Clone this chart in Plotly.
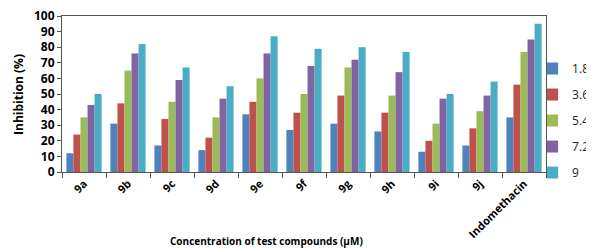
import plotly.graph_objects as go

categories = ["9a", "9b", "9c", "9d", "9e", "9f", "9g", "9h", "9i", "9j", "Indomethacin"]
series_names = ["1.8", "3.6", "5.4", "7.2", "9"]
v_1_8 = [12, 31, 17, 14, 37, 27, 31, 26, 13, 17, 35]
v_3_6 = [24, 44, 34, 22, 45, 38, 49, 38, 20, 28, 56]
v_5_4 = [35, 65, 45, 35, 60, 50, 67, 49, 31, 39, 77]
v_7_2 = [43, 76, 59, 47, 76, 68, 72, 64, 47, 49, 85]
v_9 = [50, 82, 67, 55, 87, 79, 80, 77, 50, 58, 95]
colors = ["#4F81BD", "#C0504D", "#9BBB59", "#8064A2", "#4BACC6"]

fig = go.Figure()
for i, (name, vals) in enumerate(zip(series_names, [v_1_8, v_3_6, v_5_4, v_7_2, v_9])):
    fig.add_trace(go.Bar(x=categories, y=vals, name=name, legendgroup=name,
                         marker=dict(color=colors[i], line=dict(width=0))))

font_family = "Open Sans, Liberation Sans, Arial, sans-serif"
# page body has an 8px default margin, so the figure is 8px smaller each way
fig.update_layout(
    width=586, height=240,
    margin=dict(l=54, r=48, t=8, b=76),
    paper_bgcolor="white", plot_bgcolor="white",
    barmode="group", bargap=0.2, bargroupgap=0,
    font=dict(family=font_family, color="#000000", size=11),
    showlegend=True,
    legend=dict(xref="container", yref="paper",
                x=0.92, xanchor="left", y=0.33, yanchor="middle",
                indentation=-15,
                font=dict(size=12, color="#222"), tracegroupgap=7,
                itemwidth=30, bgcolor="rgba(0,0,0,0)"),
    xaxis=dict(
        automargin=False,
        showline=True, linecolor="#555", linewidth=1, mirror=True,
        ticks="outside", tickson="boundaries", ticklen=5, tickcolor="#555",
        tickangle=-45, tickfont=dict(size=11, family=font_family, weight="bold"),
    ),
    yaxis=dict(
        automargin=False, ticklabeloverflow="allow",
        range=[0, 100], tickmode="array", tickvals=list(range(0, 101, 10)),
        showgrid=False, zeroline=False,
        showline=True, linecolor="#555", linewidth=1, mirror=True,
        ticks="outside", ticklen=4, tickcolor="#555",
        tickfont=dict(size=12, family=font_family, weight="bold"),
    ),
    annotations=[
        dict(text="<b>Concentration of test compounds (µM)</b>", xref="paper", yref="paper",
             x=0.4215, y=-0.442, xanchor="center", yanchor="middle", showarrow=False,
             font=dict(size=10, family=font_family, color="#000")),
        dict(text="<b>Inhibition (%)</b>", xref="paper", yref="paper",
             x=-0.091, y=0.5, xanchor="center", yanchor="middle", showarrow=False,
             textangle=-90, font=dict(size=12, family=font_family, color="#000")),
    ],
)
fig.write_html("out.html")
